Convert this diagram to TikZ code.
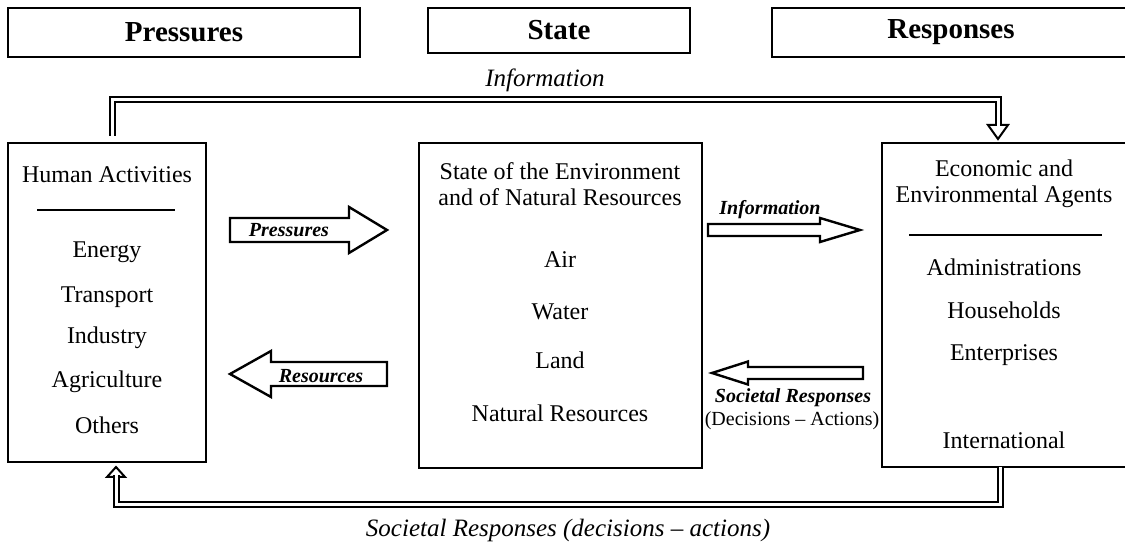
\documentclass[tikz,border=0pt]{standalone}
\usepackage{fontspec}
\setmainfont{Liberation Serif}
\usepackage{tikz}
\usetikzlibrary{arrows.meta, positioning, calc}

\tikzset{
  box/.style={draw, line width=2.6pt, inner sep=0pt, outer sep=0pt},
  headbox/.style={box, font=\fontsize{29}{32}\selectfont\bfseries},
  item/.style={font=\fontsize{24}{26}\selectfont, align=center, inner sep=0pt},
  tag/.style={font=\fontsize{20}{22}\selectfont\bfseries\itshape, inner sep=0pt},
  flowlabel/.style={font=\fontsize{25}{28}\selectfont\itshape, inner sep=0pt},
  blockarrow/.style={draw, line width=2.4pt, fill=white, line join=miter},
  dbl/.style={draw, line width=2pt, double=white, double distance=3pt},
  openhead/.style={draw, line width=2pt, fill=white, line join=miter},
  rule/.style={line width=2pt}
}

\begin{document}
\begin{tikzpicture}[x=1pt, y=1pt]
  \useasboundingbox (0,0) rectangle (1125,546);

  \node[headbox, minimum width=352pt, minimum height=49pt] (pressures) at (184,513.5) {Pressures};
  \node[headbox, minimum width=262pt, minimum height=45pt] (state) at (559,515.5) {State};
  \node[headbox, minimum width=358pt, minimum height=49pt] (responses) at (951,513.5) {Responses};

  \node[box, minimum width=198pt, minimum height=319pt] (human) at (107,243.5) {};
  \node[box, minimum width=283pt, minimum height=325pt] (env) at (560.5,240.5) {};
  \node[box, minimum width=248pt, minimum height=324pt] (agents) at (1006,241) {};

  \node[item] (humantitle) at (107,371) {Human Activities};
  \draw[rule] (37,336) -- (175,336);
  \foreach \txt/\yy [count=\i] in {Energy/294, Transport/249, Industry/208, Agriculture/164, Others/121}
    \node[item] (act\i) at (107,\yy) {\txt};

  \node[item] (envtitle) at (560,362) {State of the Environment\\and of Natural Resources};
  \foreach \txt/\yy [count=\i] in {Air/286, Water/234, Land/186, Natural Resources/133}
    \node[item] (res\i) at (560,\yy) {\txt};

  \node[item] (agenttitle) at (1004,362) {Economic and\\Environmental Agents};
  \draw[rule] (909,311) -- (1102,311);
  \foreach \txt/\yy [count=\i] in {Administrations/279, Households/236, Enterprises/191, International/106}
    \node[item] (agent\i) at (1004,\yy) {\txt};

  \draw[blockarrow] (230,304) -- (349,304) -- (349,293) -- (387,316) -- (349,339) -- (349,328) -- (230,328) -- cycle;
  \node[tag] (pressurestag) at (289,316) {Pressures};
  \draw[blockarrow] (387,160) -- (271,160) -- (271,149) -- (230,172) -- (271,195) -- (271,184) -- (387,184) -- cycle;
  \node[tag] (resourcestag) at (321,170) {Resources};
  \draw[blockarrow] (708,310) -- (820,310) -- (820,304) -- (860,316) -- (820,328) -- (820,322) -- (708,322) -- cycle;
  \node[tag] (infotag) at (770,336) {Information};
  \draw[blockarrow] (863,167) -- (748,167) -- (748,161.5) -- (712,173) -- (748,184.5) -- (748,179) -- (863,179) -- cycle;
  \node[tag] (societaltag) at (793,148) {Societal Responses};
  \node[font=\fontsize{20}{22}\selectfont, inner sep=0pt] (decisionstag) at (792,125) {(Decisions -- Actions)};

  \node[flowlabel] (infolabel) at (545,466) {Information};
  \coordinate (infocorner) at (998,446);
  \draw[openhead] ([xshift=-8pt,yshift=4pt]agents.north) -- ++(-10,14) -- ++(20,0) -- cycle;
  \draw[dbl] ([xshift=5pt,yshift=7pt]human.north) |- (infocorner) -- ([xshift=-8pt,yshift=16.5pt]agents.north);

  \node[flowlabel] (societallabel) at (568,16) {Societal Responses (decisions -- actions)};
  \coordinate (srcorner) at (116,41);
  \draw[openhead] ([xshift=9pt,yshift=-5pt]human.south) -- ++(-9,-10) -- ++(18,0) -- cycle;
  \draw[dbl] ([xshift=-6pt]agents.south) |- (srcorner) -- ([xshift=9pt,yshift=-13.5pt]human.south);
\end{tikzpicture}
\end{document}
